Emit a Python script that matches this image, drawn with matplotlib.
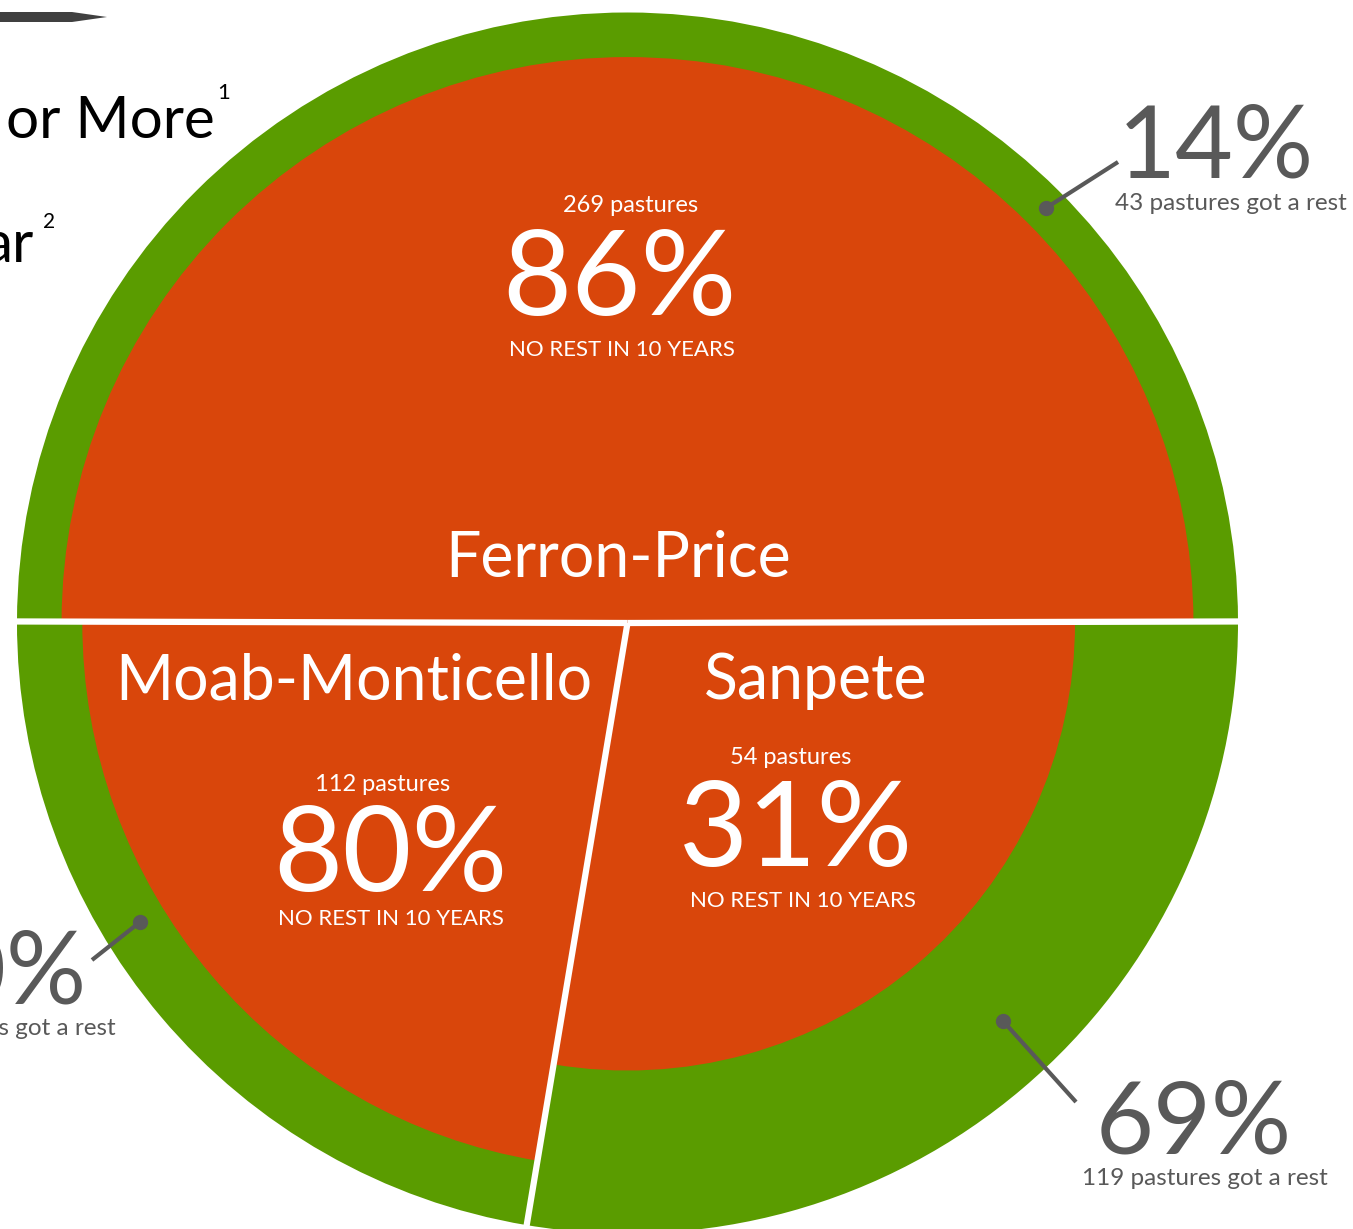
import numpy as np
import matplotlib.pyplot as plt
from matplotlib.patches import Wedge, Polygon

regions = ["Ferron-Price", "Moab-Monticello", "Sanpete"]
no_rest = [269, 112, 54]          # pastures with no rest in 10 years
got_rest = [43, 28, 119]          # pastures that got a rest
no_rest_pct = [86, 80, 31]
rest_pct = [14, 20, 69]

# layout (pixel coords, y down)
W, H = 1353, 1229
cx, cy, R = 627.5, 623, 610.5
inner_frac = [0.927, 0.893, 0.733]   # radius of the red part, as drawn
green = '#5A9C00'
red = '#D9460B'
grey = '#595959'
font = 'Lato'

plt.rcParams['font.family'] = [font, 'DejaVu Sans']

fig = plt.figure(figsize=(W / 100, H / 100), dpi=100)
ax = fig.add_axes([0, 0, 1, 1])
ax.set_xlim(0, W)
ax.set_ylim(H, 0)
ax.axis('off')

# sector angles from total pastures, Ferron-Price centred on top
totals = np.array(no_rest) + np.array(got_rest)
spans = totals / totals.sum() * 360
start = 90 - spans[0] / 2
bounds = []
a = start
for i in range(len(regions)):
    a1, a2 = a, a + spans[i]
    bounds.append(a1)
    # screen angles -> data angles (y axis is flipped)
    ax.add_patch(Wedge((cx, cy), R, -a2, -a1, color=green, lw=0))
    ax.add_patch(Wedge((cx, cy), R * inner_frac[i], -a2, -a1, color=red, lw=0))
    a = a2

for b in bounds:
    t = np.radians(b)
    ax.plot([cx, cx + 1.01 * R * np.cos(t)], [cy, cy - 1.01 * R * np.sin(t)],
            color='white', lw=4.5, solid_capstyle='butt')

# labels inside the slices
small, sub, name, big = 17, 16, 45, 86
txt = dict(color='white', ha='center', va='baseline')
ax.text(631, 212, f"{no_rest[0]} pastures", fontsize=small, **txt)
ax.text(619, 315, f"{no_rest_pct[0]}%", fontsize=big, **txt)
ax.text(622, 356, "NO REST IN 10 YEARS", fontsize=sub, **txt)
ax.text(618, 577, regions[0], fontsize=name, **txt)

ax.text(354, 699, regions[1], fontsize=name, **txt)
ax.text(383, 791, f"{no_rest[1]} pastures", fontsize=small, **txt)
ax.text(390, 891, f"{no_rest_pct[1]}%", fontsize=big, **txt)
ax.text(391, 925, "NO REST IN 10 YEARS", fontsize=sub, **txt)

ax.text(816, 699, regions[2], fontsize=name, **txt)
ax.text(791, 764, f"{no_rest[2]} pastures", fontsize=small, **txt)
ax.text(796, 866, f"{no_rest_pct[2]}%", fontsize=big, **txt)
ax.text(803, 907, "NO REST IN 10 YEARS", fontsize=sub, **txt)

# callouts for the green ring
call = dict(color=grey, va='baseline')
ax.text(1216, 178, f"{rest_pct[0]}%", fontsize=72, ha='center', **call)
ax.text(1231, 210, f"{got_rest[0]} pastures got a rest", fontsize=17.5, ha='center', **call)
ax.text(86, 1003, f"{rest_pct[1]}%", fontsize=72, ha='right', **call)
ax.text(116, 1035, f"{got_rest[1]} pastures got a rest", fontsize=17.5, ha='right', **call)
ax.text(1194, 1154, f"{rest_pct[2]}%", fontsize=72, ha='center', **call)
ax.text(1205, 1185, f"{got_rest[2]} pastures got a rest", fontsize=17.5, ha='center', **call)

leaders = [((1046, 208), (1118, 162)), ((140, 922), (92, 960)), ((1003, 1021), (1076, 1102))]
for (x0, y0), (x1, y1) in leaders:
    ax.plot([x0, x1], [y0, y1], color=grey, lw=3, solid_capstyle='butt')
    ax.plot(x0, y0, 'o', color=grey, ms=10)

# cut-off title pieces at the left edge
ax.add_patch(Polygon([(-5, 12), (72, 12), (107, 17), (72, 22), (-5, 22)], closed=True,
                     color='#404040', lw=0))
ax.text(215, 138, "or More", fontsize=42, color='black', ha='right', va='baseline')
ax.text(217, 99, "1", fontsize=16, color='black', ha='left', va='baseline')
ax.text(33, 262, "ar", fontsize=42, color='black', ha='right', va='baseline')
ax.text(43, 228, "2", fontsize=15, color='black', ha='left', va='baseline')

fig.savefig('out.png', dpi=100)
